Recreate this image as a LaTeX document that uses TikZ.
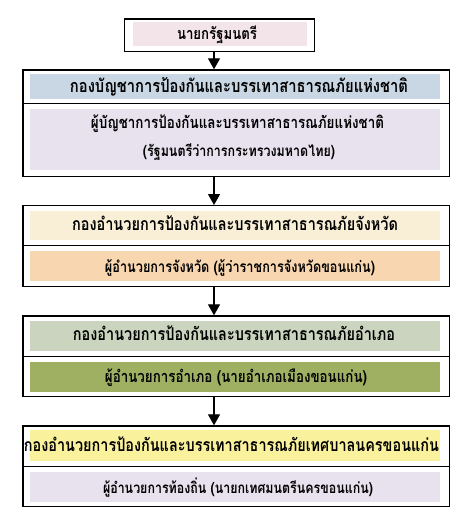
\documentclass[tikz,border=0pt]{standalone}
\usepackage{fontspec}
\usepackage{graphicx}
\newfontfamily\thaifont[Script=Thai]{Loma}
\usetikzlibrary{arrows.meta}
\definecolor{cpink}{HTML}{F3E4E9}
\definecolor{cblue}{HTML}{C9D6E3}
\definecolor{clav}{HTML}{E8E2EF}
\definecolor{ccream}{HTML}{F8EFD6}
\definecolor{cpeach}{HTML}{F8D6B0}
\definecolor{cgrey}{HTML}{CAD4BF}
\definecolor{colive}{HTML}{A0B062}
\definecolor{cyel}{HTML}{FAF19D}
\newcommand\thtxt[2]{\scalebox{1}[1.22]{\resizebox{#1}{!}{\thaifont\bfseries #2}}}
\tikzset{
  outerbox/.style={draw=black, line width=1.3pt, inner sep=0pt},
  fillbox/.style={inner sep=0pt, anchor=north west, align=center},
  divline/.style={line width=1.3pt},
  arr/.style={line width=1.3pt, -{Triangle[length=11pt,width=12pt]}}
}
\begin{document}
\begin{tikzpicture}[x=1pt,y=-1pt]
\useasboundingbox (0,0) rectangle (474,527);
\fill[white] (0,0) rectangle (474,527);
% fills
\node[fillbox, fill=cpink, minimum width=174.3pt, minimum height=23.4pt] (ftop) at (132.7,22.3) {};
\node[fillbox, fill=cblue, minimum width=410pt, minimum height=25pt] (f1a) at (30,74) {};
\node[fillbox, fill=clav, minimum width=410pt, minimum height=61.3pt] (f1b) at (30,108.7) {};
\node[fillbox, fill=ccream, minimum width=410pt, minimum height=29pt] (f2a) at (30,210.7) {};
\node[fillbox, fill=cpeach, minimum width=410pt, minimum height=30pt] (f2b) at (30,251) {};
\node[fillbox, fill=cgrey, minimum width=410pt, minimum height=30pt] (f3a) at (30,320.7) {};
\node[fillbox, fill=colive, minimum width=410pt, minimum height=30.3pt] (f3b) at (30,361.7) {};
\node[fillbox, fill=cyel, minimum width=410pt, minimum height=30.7pt] (f4a) at (30,430) {};
\node[fillbox, fill=clav, minimum width=410pt, minimum height=30pt] (f4b) at (30,472) {};
% outer boxes
\node[outerbox, anchor=north west, minimum width=190pt, minimum height=32.4pt] (top) at (124,18.3) {};
\node[outerbox, anchor=north west, minimum width=426.4pt, minimum height=106.7pt] (b1) at (22.3,69.3) {};
\node[outerbox, anchor=north west, minimum width=426.4pt, minimum height=81pt] (b2) at (22.3,205) {};
\node[outerbox, anchor=north west, minimum width=426.4pt, minimum height=80.7pt] (b3) at (22.3,315.3) {};
\node[outerbox, anchor=north west, minimum width=426.4pt, minimum height=80.7pt] (b4) at (22.3,425.3) {};
% dividers
\coordinate (d1) at (0,103.7);
\coordinate (d2) at (0,245.7);
\coordinate (d3) at (0,356.7);
\coordinate (d4) at (0,466.7);
\draw[divline] (b1.west |- d1) -- (b1.east |- d1);
\draw[divline] (b2.west |- d2) -- (b2.east |- d2);
\draw[divline] (b3.west |- d3) -- (b3.east |- d3);
\draw[divline] (b4.west |- d4) -- (b4.east |- d4);
% texts
\node (ttop) at (217,35) {\thtxt{80pt}{นายกรัฐมนตรี}};
\node (t1a) at (239,87) {\thtxt{338pt}{กองบัญชาการป้องกันและบรรเทาสาธารณภัยแห่งชาติ}};
\node (t1b) at (237.5,123.5) {\thtxt{293pt}{ผู้บัญชาการป้องกันและบรรเทาสาธารณภัยแห่งชาติ}};
\node (t1c) at (239,152) {\thtxt{192pt}{(รัฐมนตรีว่าการกระทรวงมหาดไทย)}};
\node (t2a) at (235,223) {\thtxt{326pt}{กองอำนวยการป้องกันและบรรเทาสาธารณภัยจังหวัด}};
\node (t2b) at (240,267.5) {\thtxt{270pt}{ผู้อำนวยการจังหวัด (ผู้ว่าราชการจังหวัดขอนแก่น)}};
\node (t3a) at (234,333) {\thtxt{322pt}{กองอำนวยการป้องกันและบรรเทาสาธารณภัยอำเภอ}};
\node (t3b) at (236,377.5) {\thtxt{262pt}{ผู้อำนวยการอำเภอ (นายอำเภอเมืองขอนแก่น)}};
\node (t4a) at (231.5,444) {\thtxt{415pt}{กองอำนวยการป้องกันและบรรเทาสาธารณภัยเทศบาลนครขอนแก่น}};
\node (t4b) at (238,487.5) {\thtxt{270pt}{ผู้อำนวยการท้องถิ่น (นายกเทศมนตรีนครขอนแก่น)}};
% arrows
\coordinate (ax) at (214,0);
\draw[arr] (top.south -| ax) -- (b1.north -| ax);
\draw[arr] (b1.south -| ax) -- (b2.north -| ax);
\draw[arr] (b2.south -| ax) -- (b3.north -| ax);
\draw[arr] (b3.south -| ax) -- (b4.north -| ax);
\end{tikzpicture}
\end{document}
